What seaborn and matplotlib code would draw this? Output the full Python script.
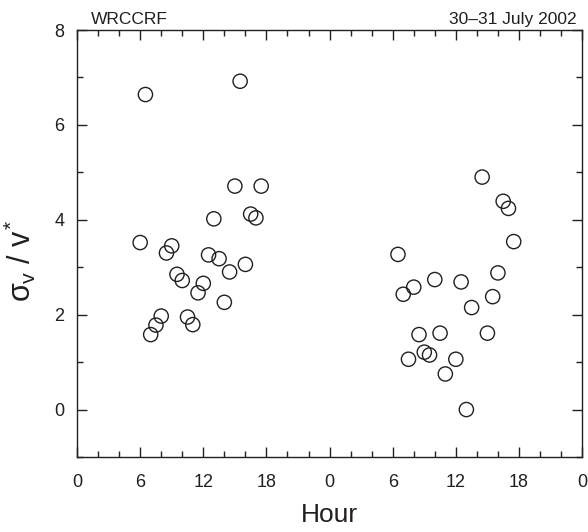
import matplotlib
matplotlib.use("Agg")
import matplotlib.pyplot as plt
from matplotlib.ticker import MultipleLocator
import seaborn as sns
import pandas as pd

# --- data (hours since start of 30 July 2002, sigma_v / v*) ---
day1_hour = [6.0, 6.5, 7.0, 7.5, 8.0, 8.5, 9.0, 9.5, 10.0, 10.5, 11.0, 11.5,
             12.0, 12.5, 13.0, 13.5, 14.0, 14.5, 15.0, 15.5, 16.0, 16.5, 17.0, 17.5]
day1_ratio = [3.52, 6.64, 1.58, 1.78, 1.97, 3.30, 3.45, 2.85, 2.72, 1.95, 1.79, 2.46,
              2.66, 3.26, 4.02, 3.18, 2.26, 2.90, 4.71, 6.92, 3.06, 4.12, 4.04, 4.71]
day2_hour = [30.5, 31.0, 31.5, 32.0, 32.5, 33.0, 33.5, 34.0, 34.5, 35.0, 36.0,
             36.5, 37.0, 37.5, 38.5, 39.0, 39.5, 40.0, 40.5, 41.0, 41.5]
day2_ratio = [3.27, 2.43, 1.06, 2.58, 1.58, 1.21, 1.15, 2.74, 1.61, 0.75, 1.06,
              2.69, 0.00, 2.15, 4.90, 1.61, 2.38, 2.88, 4.39, 4.24, 3.54]

xtick_pos = [0, 6, 12, 18, 24, 30, 36, 42, 48]
xtick_labels = ["0", "6", "12", "18", "0", "6", "12", "18", "0"]
ytick_pos = [0, 2, 4, 6, 8]

df = pd.DataFrame({"hour": day1_hour + day2_hour,
                   "ratio": day1_ratio + day2_ratio})

sns.set_theme(style="ticks")
plt.rcParams["font.family"] = ["Liberation Sans", "DejaVu Sans"]
plt.rcParams["mathtext.fontset"] = "custom"
plt.rcParams["mathtext.rm"] = "Liberation Sans"
plt.rcParams["mathtext.it"] = "Liberation Sans"
plt.rcParams["mathtext.bf"] = "Liberation Sans:bold"

ink = "#231f20"
fig = plt.figure(figsize=(5.88, 5.32), dpi=100)
ax = fig.add_axes([0.131, 0.141, 0.859, 0.8026])

sns.scatterplot(data=df, x="hour", y="ratio", ax=ax, s=105, marker="o",
                facecolors="none", edgecolor=ink, linewidth=1.0, legend=False)

ax.set_xlim(0, 48)
ax.set_ylim(-1, 8)
ax.set_xticks(xtick_pos)
ax.set_xticklabels(xtick_labels)
ax.set_yticks(ytick_pos)
ax.xaxis.set_minor_locator(MultipleLocator(2))
ax.yaxis.set_minor_locator(MultipleLocator(1))
ax.tick_params(which="both", direction="in", top=True, right=True,
               color=ink, labelcolor=ink, labelsize=13, width=1.0)
ax.tick_params(which="major", length=7.5)
ax.tick_params(which="minor", length=4)
ax.tick_params(axis="x", which="major", pad=12)
ax.tick_params(axis="y", which="major", pad=9)
for sp in ax.spines.values():
    sp.set_color(ink)
    sp.set_linewidth(1.0)

ax.set_xlabel("Hour", fontsize=19, color=ink, labelpad=9)
ax.set_ylabel(r"$\sigma_v\ /\ v^{*}$", fontsize=22, color=ink)
ax.yaxis.set_label_coords(-0.077, 0.46)

ax.text(0.027, 1.008, "WRCCRF", transform=ax.transAxes, ha="left", va="bottom",
        fontsize=12.5, color=ink)
ax.text(0.99, 1.008, "30\u201331 July 2002", transform=ax.transAxes, ha="right",
        va="bottom", fontsize=12.5, color=ink)

fig.savefig("out.png", dpi=100)
